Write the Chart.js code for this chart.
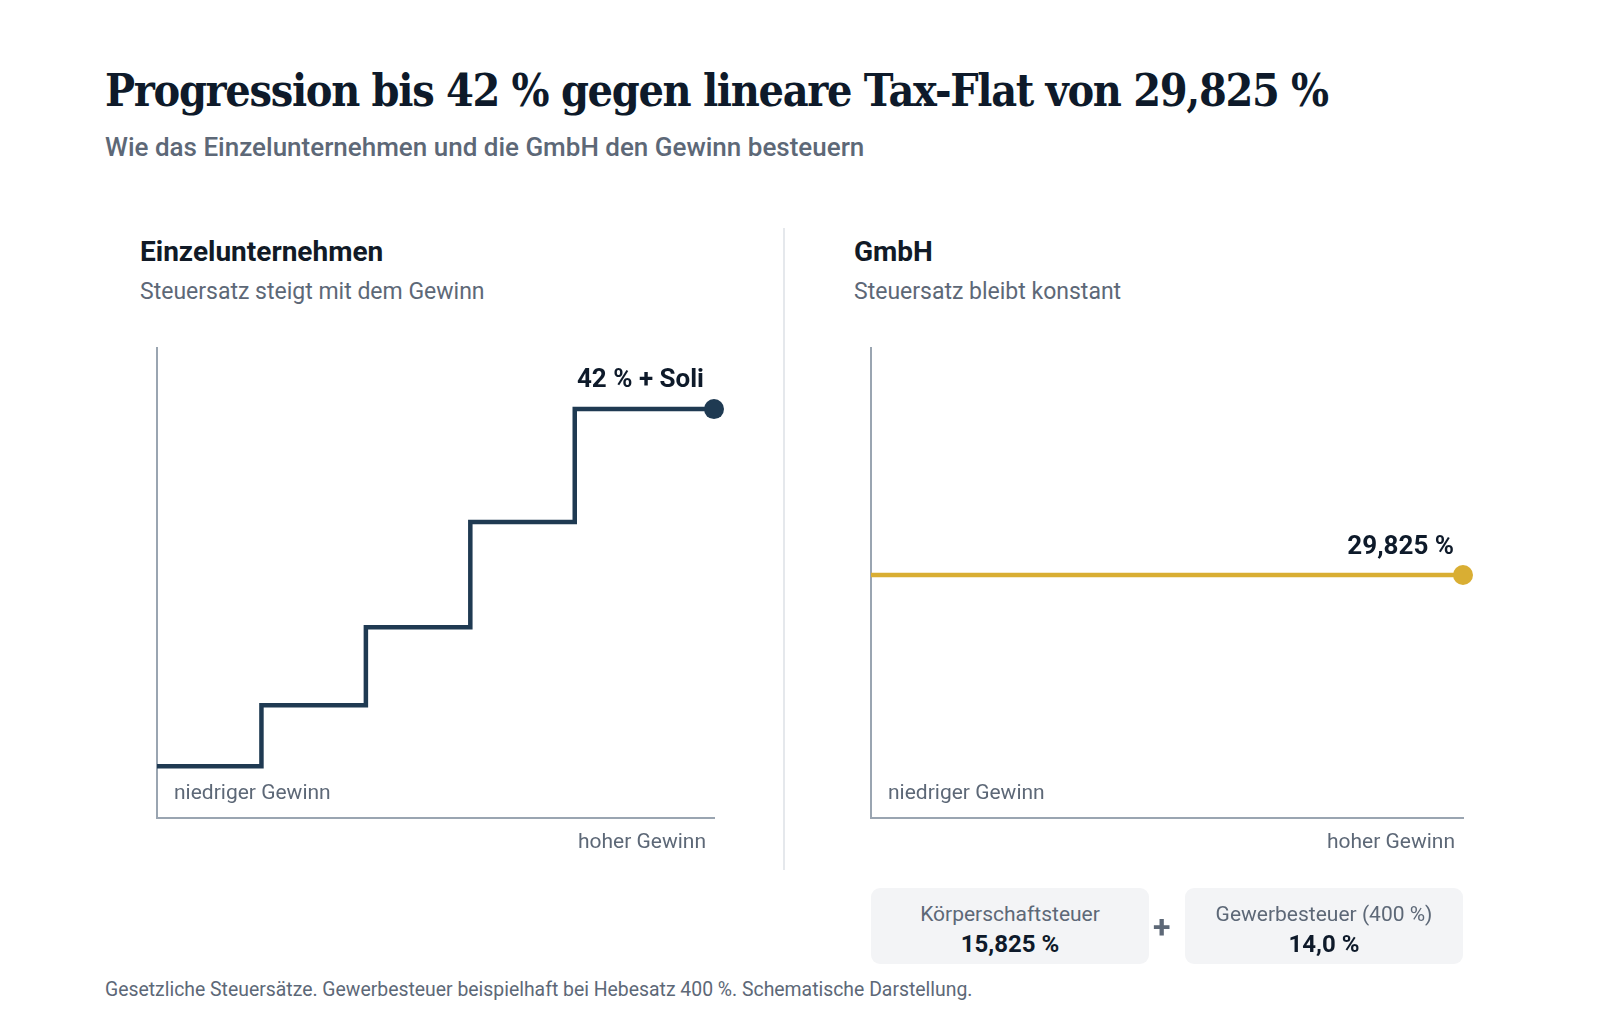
<!DOCTYPE html>
<html lang="de">
<head>
<meta charset="utf-8">
<title>Progression vs. Tax-Flat</title>
<script src="https://cdn.jsdelivr.net/npm/chart.js@4.4.1/dist/chart.umd.min.js"></script>
<style>
  html, body { margin:0; padding:0; background:#fff; }
  body { width:1600px; height:1031px; position:relative; overflow:hidden; font-family:Roboto, "Noto Sans", sans-serif; }
  .abs { position:absolute; white-space:nowrap; }
  h1 { position:absolute; left:105px; top:64px; margin:0; font-family:"DejaVu Serif", serif; font-weight:bold; font-size:45px; letter-spacing:-1.5px; color:#0e1a2a; white-space:nowrap; transform:scaleX(0.89); transform-origin:left top; }
  .sub { left:105px; top:132px; font-size:26px; font-weight:500; color:#5d6877; }
  .ph { font-size:28px; font-weight:700; color:#111a26; top:235px; }
  .ps { font-size:23px; color:#5d6877; top:278px; }
  .divider { left:783px; top:228px; width:2px; height:642px; background:#e5e8ec; }
  canvas { position:absolute; }
  .box { top:888px; width:278px; height:76px; background:#f3f4f6; border-radius:9px; text-align:center; }
  .box .l { font-size:21px; color:#5d6877; margin-top:14px; line-height:24px; }
  .box .v { font-size:24px; font-weight:700; color:#0e1a2a; margin-top:4px; line-height:28px; }
  .plus { left:1153px; top:908px; font-size:32px; font-weight:700; color:#5d6877; }
  .foot { left:105px; top:978px; font-size:19.4px; color:#5d6877; }
</style>
</head>
<body>
<h1>Progression bis 42 % gegen lineare Tax-Flat von 29,825 %</h1>
<div class="abs sub">Wie das Einzelunternehmen und die GmbH den Gewinn besteuern</div>

<div class="abs ph" style="left:140px">Einzelunternehmen</div>
<div class="abs ps" style="left:140px">Steuersatz steigt mit dem Gewinn</div>
<div class="abs ph" style="left:854px">GmbH</div>
<div class="abs ps" style="left:854px">Steuersatz bleibt konstant</div>
<div class="abs divider"></div>

<canvas id="leftChart" style="left:120px;top:330px;width:640px;height:560px" width="640" height="560"></canvas>
<canvas id="rightChart" style="left:834px;top:330px;width:680px;height:560px" width="680" height="560"></canvas>

<div class="abs box" style="left:871px"><div class="l">Körperschaftsteuer</div><div class="v">15,825 %</div></div>
<div class="abs plus">+</div>
<div class="abs box" style="left:1185px"><div class="l">Gewerbesteuer (400 %)</div><div class="v">14,0 %</div></div>

<div class="abs foot">Gesetzliche Steuersätze. Gewerbesteuer beispielhaft bei Hebesatz 400 %. Schematische Darstellung.</div>

<script>
// schematic values (relative scale 0..100)
const stepX = [0, 18.75, 37.5, 56.25, 75, 100];
const stepY = [11, 24, 40.6, 63, 87, 87];
const flatX = [0, 100];
const flatY = [51.7, 51.7];
const leftLabel = '42 % + Soli';
const rightLabel = '29,825 %';
const lowLabel = 'niedriger Gewinn';
const highLabel = 'hoher Gewinn';

const navy = '#1f3a52', gold = '#d9ae33', axisCol = '#9aa5b1';

function toPoints(xs, ys) { return xs.map((x, i) => ({x: x, y: ys[i]})); }

// text labels drawn from the scales
const labelPlugin = {
  id: 'labels',
  afterDraw(chart, args, opts) {
    const c = chart.ctx, a = chart.chartArea;
    const xs = chart.scales.x, ys = chart.scales.y;
    const pts = chart.data.datasets[0].data, last = pts[pts.length - 1];
    c.save();
    c.font = '700 26px Roboto';
    c.fillStyle = '#0e1a2a';
    c.textAlign = 'right';
    c.textBaseline = 'alphabetic';
    c.fillText(opts.text, xs.getPixelForValue(last.x) - opts.dx, ys.getPixelForValue(last.y) - opts.dy);
    c.font = '21px Roboto';
    c.fillStyle = '#5d6877';
    c.textAlign = 'left';
    c.textBaseline = 'middle';
    c.fillText(lowLabel, a.left + 17, a.bottom - 24);
    c.textAlign = 'right';
    c.fillText(highLabel, a.right - 8, a.bottom + 25);
    c.restore();
  }
};

function makeChart(id, xs, ys, color, stepped, pad, text, dx, dy) {
  return new Chart(document.getElementById(id), {
    type: 'line',
    data: {
      datasets: [{
        data: toPoints(xs, ys),
        borderColor: color,
        borderWidth: 4.5,
        stepped: stepped,
        borderJoinStyle: 'miter',
        borderCapStyle: 'butt',
        pointRadius: ctx => ctx.dataIndex === xs.length - 1 ? 10 : 0,
        pointBackgroundColor: color,
        pointBorderWidth: 0,
        fill: false
      }]
    },
    options: {
      responsive: false,
      animation: false,
      layout: {padding: pad},
      scales: {
        x: {type: 'linear', min: 0, max: 100,
            grid: {display: false, drawTicks: false},
            ticks: {display: false},
            border: {display: true, color: axisCol, width: 2}},
        y: {min: 0, max: 100,
            grid: {display: false, drawTicks: false},
            ticks: {display: false},
            border: {display: true, color: axisCol, width: 2}}
      },
      plugins: {
        legend: {display: false},
        tooltip: {enabled: false},
        labels: {text: text, dx: dx, dy: dy}
      },
      clip: false
    },
    plugins: [labelPlugin]
  });
}

makeChart('leftChart', stepX, stepY, navy, true,
  {left: 37, top: 18, right: 46, bottom: 72}, leftLabel, 10, 22);
makeChart('rightChart', flatX, flatY, gold, false,
  {left: 37, top: 18, right: 51, bottom: 72}, rightLabel, 9, 21);
</script>
</body>
</html>
